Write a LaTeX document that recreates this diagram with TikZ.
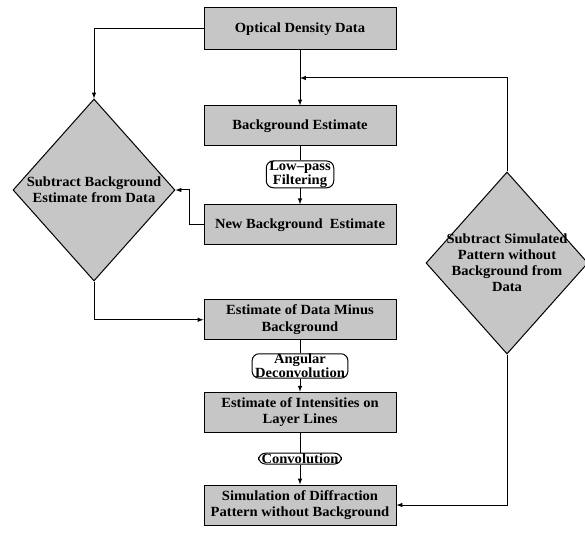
\documentclass[tikz,border=0pt]{standalone}
\usepackage{fontspec}
\setmainfont{Liberation Serif}[FakeStretch=1.04]
\usepackage{tikz}
\usetikzlibrary{arrows.meta, positioning, calc, shapes}

\begin{document}
\begin{tikzpicture}[
    node distance=14pt,
    stage/.style={rectangle, draw, line width=1pt, fill=gray!45, minimum width=192pt, minimum height=40pt, align=center, inner sep=1pt,
        font=\fontsize{14}{16.5}\selectfont\bfseries},
    filt/.style={rectangle, draw, line width=1pt, rounded corners=7pt, fill=white, align=center, inner xsep=3pt, inner ysep=0.5pt,
        font=\fontsize{14}{13.5}\selectfont\bfseries},
    decide/.style={diamond, draw, line width=1pt, fill=gray!45, minimum width=162pt, minimum height=182pt, inner sep=-16pt, align=center,
        font=\fontsize{14}{16}\selectfont\bfseries},
    arrow/.style={->, >=latex, line width=1pt},
    link/.style={line width=1pt}
]
\useasboundingbox (0,0) rectangle (585pt,-537pt);

\node[stage, minimum height=42pt] (optical) at (300pt,-29pt) {Optical Density Data};

% background loop
\node[stage, below=55pt of optical] (bgest) {Background Estimate};
\node[filt, below=14pt of bgest] (lowpass) {Low--pass\\Filtering};
\node[stage, below=16pt of lowpass] (newbg) {New Background\ \ Estimate};
\node[decide] (subbg) at (94pt,-190pt) {Subtract Background\\Estimate from Data};

\coordinate (join) at ($(optical.south)!0.5!(bgest.north)$);

\draw[arrow] (optical) -- (bgest);
\draw[arrow] (optical.west) -| (subbg.north);
\draw[link] (bgest) -- (lowpass);
\draw[arrow] (lowpass) -- (newbg);
\draw[arrow] (newbg.west) -- ++(-14pt,0) |- (subbg.east);

% deconvolution and simulation
\node[stage, below=54pt of newbg] (minus) {Estimate of Data Minus\\Background};
\node[filt, below=13pt of minus] (angular) {Angular\\Deconvolution};
\node[stage, below=13pt of angular] (intens) {Estimate of Intensities on\\Layer Lines};
\node[filt, below=20pt of intens] (conv) {Convolution};
\node[stage, below=20pt of conv] (sim) {Simulation of Diffraction\\Pattern without Background};

\draw[arrow] (subbg.south) |- (minus.west);
\draw[link] (minus) -- (angular);
\draw[arrow] (angular) -- (intens);
\draw[link] (intens) -- (conv);
\draw[arrow] (conv) -- (sim);

% outer loop
\node[decide] (subsim) at (507pt,-263pt) {Subtract Simulated\\Pattern without\\Background from\\Data};

\draw[arrow] (subsim.north) |- (join);
\draw[arrow] (subsim.south) |- (sim.east);

\end{tikzpicture}
\end{document}
